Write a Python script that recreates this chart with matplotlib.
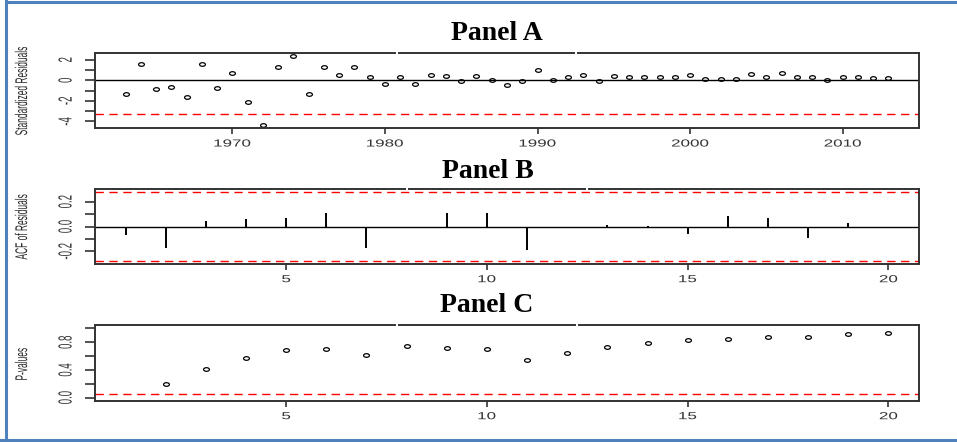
import matplotlib
matplotlib.use("Agg")
import matplotlib.pyplot as plt
from matplotlib.path import Path
from matplotlib.patches import Rectangle, PathPatch
from matplotlib.lines import Line2D
from matplotlib.textpath import TextPath
from matplotlib.font_manager import FontProperties
from matplotlib.transforms import Affine2D
import numpy as np

# Panel A: standardized residuals by year
years = list(range(1963, 2014))
std_resid = [-1.38, 1.54, -0.85, -0.69, -1.61, 1.54, -0.79, 0.69, -2.07, -4.36,
             1.25, 2.39, -1.38, 1.25, 0.56, 1.25, 0.30, -0.33, 0.30, -0.33,
             0.56, 0.46, -0.10, 0.46, 0.07, -0.46, -0.10, 0.98, 0.07, 0.30,
             0.56, -0.10, 0.46, 0.36, 0.36, 0.30, 0.30, 0.56, 0.10, 0.10,
             0.10, 0.62, 0.30, 0.75, 0.36, 0.36, 0.03, 0.30, 0.30, 0.23, 0.23]
resid_limit = -3.32
yticks_A = [-4, -2, 0, 2]
xticks_A = [1970, 1980, 1990, 2000, 2010]

# Panel B: ACF of residuals
acf_lags = list(range(1, 21))
acf_vals = [-0.068, -0.17, 0.046, 0.059, 0.068, 0.105, -0.17, -0.008, 0.11, 0.105,
            -0.19, -0.005, 0.01, 0.005, -0.062, 0.084, 0.065, -0.092, 0.03, -0.016]
acf_band = 0.28
yticks_B = [-0.2, 0.0, 0.2]

# Panel C: Ljung-Box p-values
p_lags = list(range(2, 21))
p_vals = [0.19, 0.41, 0.57, 0.69, 0.70, 0.61, 0.74, 0.72, 0.70, 0.55,
          0.65, 0.73, 0.795, 0.84, 0.85, 0.87, 0.88, 0.92, 0.94]
p_cut = 0.05
yticks_C = [0.0, 0.4, 0.8]
lag_ticks = [5, 10, 15, 20]

W, H = 957, 442
fig = plt.figure(figsize=(W / 100, H / 100), dpi=100)

# squashed open circle, like the reference
t = np.linspace(0, 2 * np.pi, 40)
ell = Path(np.column_stack([np.cos(t), 0.62 * np.sin(t)]), closed=True)

sans = FontProperties(family="Liberation Sans")
frame_col = "#333333"


def stretched_text(s, x, y, em_h, em_v, rot=False, color="#333333"):
    # text drawn as a path so it can be squeezed like the (resized) original
    tp = TextPath((0, 0), s, size=1, prop=sans)
    bb = tp.get_extents()
    tr = Affine2D().translate(-(bb.x0 + bb.x1) / 2, -(bb.y0 + bb.y1) / 2)
    if rot:
        tr = tr.rotate_deg(90)
    tr = tr.scale(em_h, em_v).translate(x, H - y)
    fig.add_artist(PathPatch(tp, transform=tr, fc=color, ec="none", lw=0))


def px_axes(top, bottom, left=95, right=919):
    return fig.add_axes([left / W, 1 - bottom / H, (right - left) / W, (bottom - top) / H])


def style(ax):
    for s in ax.spines.values():
        s.set_color(frame_col)
        s.set_linewidth(1.4)
    ax.tick_params(axis="x", which="both", length=4.5, width=1.2, color=frame_col)
    ax.tick_params(axis="y", which="both", length=7, width=1.2, color=frame_col)
    ax.set_xticklabels([])
    ax.set_yticklabels([], minor=False)


def tick_labels(ax, top, bottom, xt, yt, xfmt, yfmt):
    x0, x1 = ax.get_xlim()
    y0, y1 = ax.get_ylim()
    for v in xt:
        px = 95 + (v - x0) / (x1 - x0) * 824
        stretched_text(xfmt.format(v), px, bottom + 15, 17, 10.2)
    for v in yt:
        py = bottom - (v - y0) / (y1 - y0) * (bottom - top)
        stretched_text(yfmt.format(v), 65, py, 19, 9.6, rot=True)


# ---- Panel A
axA = px_axes(53, 128)
axA.plot(years, std_resid, linestyle="none", marker=ell, markersize=4.2,
         markerfacecolor="none", markeredgecolor="black", markeredgewidth=0.9)
axA.axhline(0, color="black", lw=1)
axA.axhline(resid_limit, color="red", lw=1, dashes=(6, 4))
axA.set_xlim(1961, 2015)
axA.set_ylim(-4.65, 2.66)
axA.set_xticks(xticks_A)
axA.set_yticks(yticks_A)
axA.set_yticks([-3, -1, 1], minor=True)
style(axA)
tick_labels(axA, 53, 128, xticks_A, yticks_A, "{}", "{}")

# ---- Panel B
axB = px_axes(189.3, 263.7)
axB.vlines(acf_lags, 0, acf_vals, color="black", lw=1.4, zorder=3)
axB.axhline(0, color="black", lw=1, zorder=1)
axB.axhline(acf_band, color="red", lw=1, dashes=(6, 4))
axB.axhline(-acf_band, color="red", lw=1, dashes=(6, 4))
axB.set_xlim(0.24, 20.76)
axB.set_ylim(-0.30, 0.30)
axB.set_xticks(lag_ticks)
axB.set_yticks(yticks_B)
axB.set_yticks([-0.1, 0.1], minor=True)
style(axB)
tick_labels(axB, 189.3, 263.7, lag_ticks, yticks_B, "{}", "{:.1f}")

# ---- Panel C
axC = px_axes(325, 400.7)
axC.plot(p_lags, p_vals, linestyle="none", marker=ell, markersize=4.2,
         markerfacecolor="none", markeredgecolor="black", markeredgewidth=0.9)
axC.axhline(p_cut, color="red", lw=1, dashes=(6, 4))
axC.set_xlim(0.24, 20.76)
axC.set_ylim(-0.045, 1.05)
axC.set_xticks(lag_ticks)
axC.set_yticks(yticks_C)
axC.set_yticks([0.2, 0.6, 1.0], minor=True)
style(axC)
tick_labels(axC, 325, 400.7, lag_ticks, yticks_C, "{}", "{:.1f}")

# titles (pasted boxes leave small gaps in the frame lines)
for txt, x, y, top, g1, g2 in [("Panel A", 497, 34, 53, 397, 576),
                               ("Panel B", 488, 172, 189.3, 407, 587),
                               ("Panel C", 487, 305, 325, 397, 577)]:
    fig.text(x / W, 1 - y / H, txt, ha="center", va="center", fontsize=20,
             fontweight="bold", family="Liberation Serif")
    for g in (g1, g2):
        fig.add_artist(Rectangle(((g - 1) / W, 1 - (top + 2) / H), 2 / W, 4 / H,
                                 transform=fig.transFigure, fc="white", ec="none"))

# y axis titles
for txt, y in [("Standardized Residuals", 91), ("ACF of Residuals", 227), ("P-values", 364)]:
    stretched_text(txt, 21, y, 17, 8.4, rot=True, color="#2a2a2a")

# blue frame around the figure
blue = "#4F81BD"
fig.add_artist(Line2D([6 / W, 6 / W], [0, 1], transform=fig.transFigure, color=blue, lw=2.2))
fig.add_artist(Line2D([6 / W, 1], [1 - 2 / H, 1 - 2 / H], transform=fig.transFigure, color=blue, lw=2.2))
fig.add_artist(Line2D([0, 1], [1 - 440 / H, 1 - 440 / H], transform=fig.transFigure, color=blue, lw=2.2))

fig.savefig("out.png", dpi=100)
